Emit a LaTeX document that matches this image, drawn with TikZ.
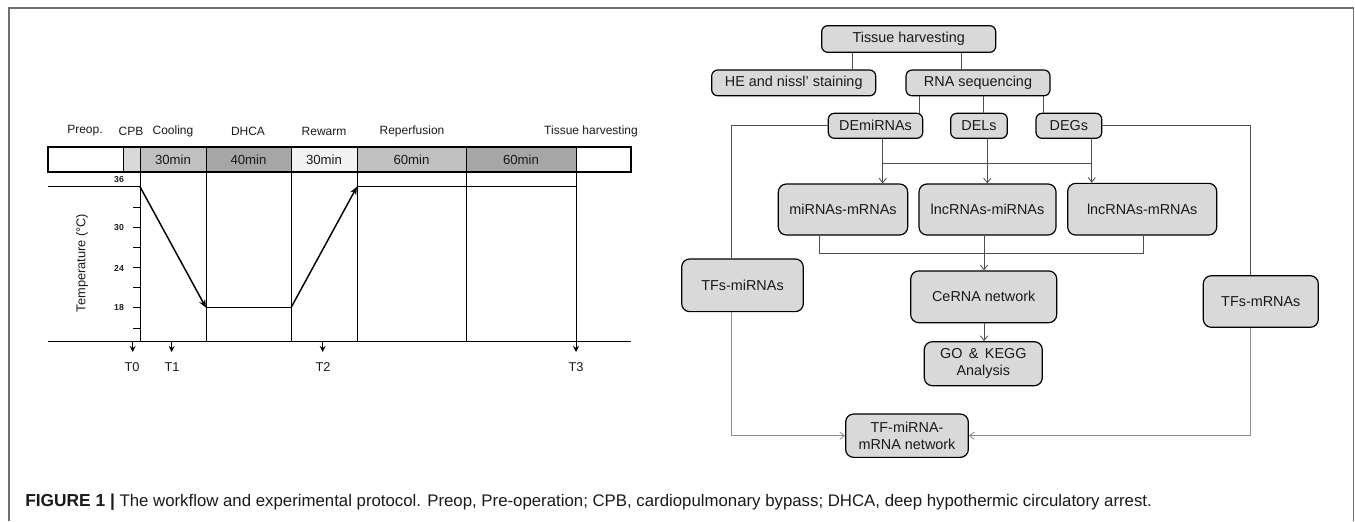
\documentclass[tikz,border=0pt]{standalone}
\usepackage{fontspec}
\setmainfont{Liberation Sans}
\usetikzlibrary{arrows.meta}
\definecolor{boxgray}{HTML}{D9D9D9}
\definecolor{linegray}{HTML}{4D4D4D}
\definecolor{lightline}{HTML}{8C8C8C}
\definecolor{framegray}{HTML}{6E6E6E}
\definecolor{cpbgray}{HTML}{D9D9D9}
\definecolor{midgray}{HTML}{C0C0C0}
\definecolor{darkgray}{HTML}{A6A6A6}
\definecolor{palegray}{HTML}{F2F2F2}
\definecolor{txt}{HTML}{1A1A1A}
\tikzset{
  fbox/.style={draw=black, line width=0.9pt, fill=boxgray, rounded corners=4.5pt,
    inner sep=1pt, align=center, text=txt, font=\fontsize{10.8}{12.5}\selectfont},
  conn/.style={draw=linegray, line width=0.6pt},
  arr/.style={conn, -{Straight Barb[length=3.5pt,width=5.5pt]}},
  arrl/.style={draw=lightline, line width=0.6pt, -{Straight Barb[length=3.5pt,width=5.5pt]}},
  gridline/.style={black, line width=0.55pt},
  templine/.style={black, line width=1.1pt},
  tarrow/.style={black, line width=0.9pt, -{Stealth[length=4.5pt,width=4.5pt]}},
  toplbl/.style={font=\fontsize{9}{10}\selectfont, text=txt},
  barlbl/.style={font=\fontsize{9.9}{11}\selectfont, text=txt},
  numlbl/.style={font=\fontsize{6.5}{7}\selectfont\bfseries, text=txt},
  tlbl/.style={font=\fontsize{9.6}{10}\selectfont, text=txt},
}
\begin{document}
\begin{tikzpicture}[x=0.75pt,y=-0.75pt]
\useasboundingbox (0,0) rectangle (1355,521);
% outer frame
\draw[framegray, line width=1.1pt] (9,521) -- (9,8) -- (1353.5,8) -- (1353.5,521);

% ---------------- left chart ----------------
% top labels
\node[toplbl] (lpre) at (85,131) {Preop.};
\node[toplbl] (lcpb) at (131,131) {CPB};
\node[toplbl] (lcool) at (173,131) {Cooling};
\node[toplbl] (ldhca) at (248,131) {DHCA};
\node[toplbl] (lrew) at (324,131) {Rewarm};
\node[toplbl] (lrep) at (412,131) {Reperfusion};
\node[toplbl] (lth) at (591,131) {Tissue harvesting};
% bar
\fill[cpbgray] (123,147) rectangle (140,172);
\fill[midgray] (140,147) rectangle (206,172);
\fill[darkgray] (206,147) rectangle (291,172);
\fill[palegray] (291,147) rectangle (357,172);
\fill[midgray] (357,147) rectangle (466,172);
\fill[darkgray] (466,147) rectangle (576,172);
\draw[black, line width=0.8pt] (48,147) rectangle (631,172);
\foreach \xx in {123,140,206,291,357,466,576} \draw[gridline] (\xx,147) -- (\xx,172);
\node[barlbl] (b1) at (173,159.5) {30min};
\node[barlbl] (b2) at (248.5,159.5) {40min};
\node[barlbl] (b3) at (324,159.5) {30min};
\node[barlbl] (b4) at (411.5,159.5) {60min};
\node[barlbl] (b5) at (521,159.5) {60min};
% vertical lines below bar
\foreach \xx in {140,206,291,357,466} \draw[gridline] (\xx,172) -- (\xx,341.7);
\draw[gridline, -{Stealth[length=4.5pt,width=4.5pt]}] (576,172) -- (576,352);
% axis
\draw[black, line width=0.9pt] (48,341.7) -- (631,341.7);
% ticks
\foreach \k in {0,...,7} \draw[black, line width=0.5pt] (133,186.7+\k*20.17) -- (140,186.7+\k*20.17);
\node[numlbl] (n36) at (119,180) {36};
\node[numlbl] (n30) at (119,227.5) {30};
\node[numlbl] (n24) at (119,268) {24};
\node[numlbl] (n18) at (119,308) {18};
\node[tlbl, rotate=90] (ylab) at (82,263) {Temperature (°C)};
% temperature curve
\draw[templine] (48,186.7) -- (140,186.7);
\draw[templine, -{Stealth[length=6pt,width=5pt]}] (140,186.7) -- (206,307.7);
\draw[templine] (206,307.7) -- (291,307.7);
\draw[templine, -{Stealth[length=6pt,width=5pt]}] (291,307.7) -- (357,186.7);
\draw[templine] (357,186.7) -- (576,186.7);
% time points
\draw[tarrow] (132.7,341.7) -- (132.7,352);
\draw[tarrow] (171.7,341.7) -- (171.7,352);
\draw[tarrow] (322.7,341.7) -- (322.7,352);
\node[tlbl] (t0) at (132,367) {T0};
\node[tlbl] (t1) at (172,367) {T1};
\node[tlbl] (t2) at (323,367) {T2};
\node[tlbl] (t3) at (576,367) {T3};

% ---------------- right flowchart ----------------
\node[fbox, minimum width=130.5pt, minimum height=20pt] (tissue) at (908.7,39) {Tissue harvesting};
\node[fbox, minimum width=123pt, minimum height=19.3pt] (he) at (793.7,82.9) {HE and nissl' staining};
\node[fbox, minimum width=108pt, minimum height=19.3pt] (rna) at (978,82.9) {RNA sequencing};
\node[fbox, minimum width=70.8pt, minimum height=18.75pt] (demi) at (875.5,125.8) {DEmiRNAs};
\node[fbox, minimum width=42.5pt, minimum height=18.75pt] (dels) at (979,125.8) {DELs};
\node[fbox, minimum width=49.3pt, minimum height=18.75pt] (degs) at (1068.9,125.8) {DEGs};
\node[fbox, rounded corners=6pt, minimum width=97pt, minimum height=38.25pt] (mm) at (843,209.5) {miRNAs-mRNAs};
\node[fbox, rounded corners=6pt, minimum width=102.75pt, minimum height=38.25pt] (lm) at (987.5,209.5) {lncRNAs-miRNAs};
\node[fbox, rounded corners=6pt, minimum width=111.75pt, minimum height=38.75pt] (lmr) at (1142.2,209.2) {lncRNAs-mRNAs};
\node[fbox, rounded corners=6pt, minimum width=91.2pt, minimum height=39.5pt] (tfmi) at (742.5,285.3) {TFs-miRNAs};
\node[fbox, rounded corners=6pt, minimum width=109.5pt, minimum height=38.8pt] (cerna) at (983.7,296.8) {CeRNA network};
\node[fbox, rounded corners=6pt, minimum width=88.5pt, minimum height=33pt] (go) at (983.3,363.7) {GO \,\&\, KEGG\\Analysis};
\node[fbox, rounded corners=6pt, minimum width=92pt, minimum height=32.5pt] (tfnet) at (907,435.7) {TF-miRNA-\\mRNA network};
\node[fbox, rounded corners=6pt, minimum width=86.25pt, minimum height=38.7pt] (tfm) at (1260.8,301.5) {TFs-mRNAs};

% connectors
\draw[conn] (852.3,0 |- tissue.south) -- (852.3,0 |- he.north);
\draw[conn] (961,0 |- tissue.south) -- (961,0 |- rna.north);
\draw[conn] (919,0 |- rna.south) -- (919,0 |- demi.north);
\draw[conn] (983.3,0 |- rna.south) -- (983.3,0 |- dels.north);
\draw[conn] (1043,0 |- rna.south) -- (1043,0 |- degs.north);
\draw[conn] (demi.west) -| (731.7,0 |- tfmi.north);
\draw[arr] (882.7,0 |- demi.south) -- (882.7,0 |- mm.north);
\draw[arr] (987.3,0 |- dels.south) -- (987.3,0 |- lm.north);
\draw[arr] (1091.7,0 |- degs.south) -- (1091.7,0 |- lmr.north);
\coordinate (jl) at (882.7,163.3);
\coordinate (jr) at (1091.7,163.3);
\draw[conn] (jl) -- (jr);
\coordinate (jb) at (1143.3,253.3);
\draw[conn] (819.3,0 |- mm.south) |- (jb) -- (1143.3,0 |- lmr.south);
\draw[arr] (984,0 |- lm.south) -- (984,0 |- cerna.north);
\draw[arr] (984,0 |- cerna.south) -- (984,0 |- go.north);
\draw[conn] (degs.east) -| (1250,0 |- tfm.north);
\draw[arrl] (731.7,0 |- tfmi.south) |- (tfnet.west);
\draw[arrl] (1250,0 |- tfm.south) |- (tfnet.east);

% caption
\node[anchor=base west, inner sep=0pt, text=txt, font=\fontsize{12.6}{15}\selectfont] (cap) at (25,506)
  {{\fontsize{13}{15}\selectfont\bfseries FIGURE 1 |} The workflow and experimental protocol. Preop, Pre-operation; CPB, cardiopulmonary bypass; DHCA, deep hypothermic circulatory arrest.};
\end{tikzpicture}
\end{document}
